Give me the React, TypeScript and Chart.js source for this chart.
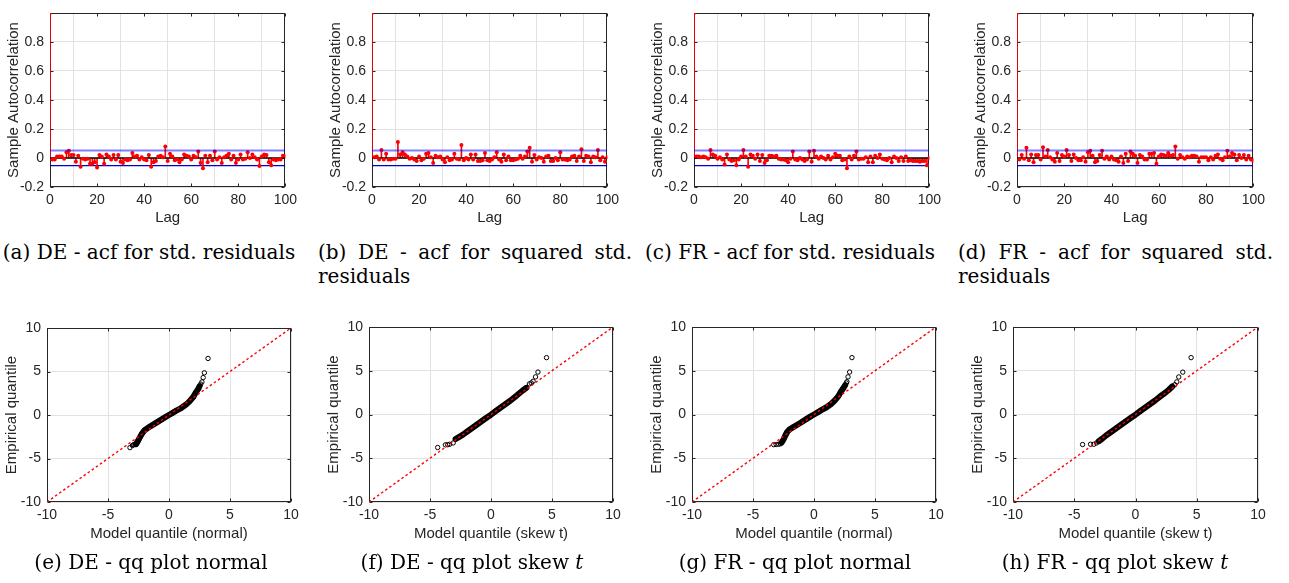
import React, { useEffect, useRef } from 'react';
import { Chart, registerables } from 'chart.js';

Chart.register(...registerables);
Chart.defaults.font.family = '"Liberation Sans", Arial, Helvetica, sans-serif';

// ---------------- DATA ----------------
const LAGS = Array.from({ length: 101 }, (_, i) => i);
const CONF_BOUND = 0.052;

const ACF_DE_STD = [
  1, -0.01, -0.01, 0.01, 0.01, 0.01, -0.005, 0.04, 0.05, 0.02,
  0.02, -0.025, 0.015, -0.06, -0.005, -0.01, -0.005, -0.04, -0.04, -0.03,
  -0.065, 0.02, 0.01, -0.04, 0.025, 0.01, -0.01, 0.02, -0.01, 0.02,
  -0.025, -0.035, -0.01, -0.015, -0.01, 0.035, 0.01, 0.015, -0.01, 0.005,
  -0.01, -0.015, 0.02, -0.06, -0.03, -0.02, 0.01, 0.015, 0.005, 0.08,
  -0.02, 0.03, 0.01, -0.015, -0.01, -0.03, -0.01, 0.025, 0.015, 0.01,
  -0.01, 0.015, 0.005, 0.045, -0.035, -0.07, 0.015, -0.03, 0.015, -0.015,
  0.045, -0.01, 0.005, -0.035, 0.005, 0.015, 0.03, -0.01, 0.015, -0.035,
  -0.01, 0.025, -0.01, -0.005, 0.04, 0.0, 0.025, 0.005, -0.01, -0.055,
  0.01, 0.025, 0.02, -0.03, -0.05, -0.01, -0.015, -0.01, -0.01, 0.015,
  0.015,
];

const ACF_DE_SQ = [
  1, 0.005, 0.01, -0.01, 0.055, -0.01, 0.03, -0.01, -0.01, -0.005,
  -0.005, 0.11, 0.025, 0.04, 0.025, 0.01, -0.005, 0.0, -0.01, -0.02,
  0.01, -0.015, -0.005, 0.03, 0.035, 0.005, -0.035, 0.015, 0.005, 0.01,
  -0.01, -0.03, 0.005, -0.015, -0.01, 0.03, -0.005, -0.01, 0.09, -0.015,
  0.0, -0.01, 0.025, -0.01, 0.025, -0.02, -0.02, -0.015, 0.035, -0.015,
  -0.02, -0.01, 0.005, 0.04, -0.01, -0.025, 0.025, -0.015, 0.01, -0.015,
  -0.015, -0.01, -0.005, 0.015, -0.005, 0.01, 0.045, 0.07, -0.025, 0.02,
  -0.01, 0.005, 0.0, -0.025, 0.01, 0.015, -0.02, -0.02, 0.0, -0.015,
  0.04, -0.01, -0.01, -0.015, -0.01, 0.01, 0.015, -0.02, 0.01, 0.06,
  -0.02, 0.015, 0.01, -0.03, 0.01, 0.005, 0.055, -0.015, 0.005, -0.025,
  0.005,
];

const ACF_FR_STD = [
  1, 0.01, 0.01, 0.005, 0.01, 0.005, -0.005, 0.055, 0.025, 0.015,
  -0.005, 0.005, -0.01, -0.045, 0.025, -0.01, -0.02, -0.015, -0.05, -0.01,
  0.01, 0.055, 0.01, -0.06, 0.025, 0.015, -0.005, 0.025, -0.02, 0.02,
  -0.035, -0.015, 0.015, 0.015, 0.01, 0.015, -0.005, -0.01, -0.01, -0.015,
  -0.03, -0.005, 0.045, -0.01, -0.015, 0.0, -0.01, -0.02, -0.01, 0.045,
  -0.025, 0.05, 0.01, -0.005, 0.01, 0.0, -0.01, 0.015, -0.01, 0.005,
  0.03, 0.015, 0.015, -0.015, -0.01, -0.07, 0.01, -0.01, 0.015, 0.045,
  -0.01, -0.005, -0.005, 0.005, -0.03, 0.01, -0.03, 0.015, 0.0, 0.025,
  -0.005, -0.01, -0.015, 0.0, -0.03, 0.01, 0.0, -0.02, 0.005, -0.02,
  0.01, -0.02, -0.015, -0.02, -0.02, -0.02, -0.025, -0.02, -0.02, -0.05,
  0.0,
];

const ACF_FR_SQ = [
  1, -0.01, 0.02, -0.005, 0.07, -0.015, 0.025, -0.03, 0.02, 0.02,
  -0.01, 0.075, 0.01, 0.055, 0.005, -0.01, -0.025, 0.035, -0.02, 0.02,
  0.01, 0.055, 0.02, -0.02, 0.025, 0.0, -0.015, -0.015, 0.005, -0.025,
  0.04, 0.05, 0.015, -0.03, -0.02, 0.02, 0.05, -0.005, 0.01, -0.01,
  0.01, -0.01, -0.015, -0.025, 0.01, -0.035, 0.03, -0.02, 0.045, 0.03,
  0.015, -0.035, 0.02, 0.01, -0.01, -0.01, 0.03, 0.03, 0.035, -0.04,
  0.01, 0.025, 0.02, 0.015, 0.035, 0.015, 0.02, 0.08, -0.005, 0.02,
  0.005, -0.005, 0.01, 0.005, 0.015, 0.015, 0.01, -0.025, 0.005, 0.005,
  0.005, -0.015, 0.005, -0.01, 0.015, 0.025, -0.005, -0.015, 0.005, 0.05,
  0.01, 0.035, 0.025, -0.015, 0.02, 0.0, 0.02, -0.01, 0.015, -0.01,
  -0.02,
];

const ACF_Y_TICKS = [-0.2, 0, 0.2, 0.4, 0.6, 0.8];
const LAG_TICKS = [0, 20, 40, 60, 80, 100];
const QQ_TICKS = [-10, -5, 0, 5, 10];
const REF_LINE_X = [-10, 10];
const REF_LINE_Y = [-10, 10];

// DE, normal quantiles
const QQ_DE_N_BAND_X = [-2.7, -2.55, -2.4, -2.2, -2.0, -1.7, -1.4, -1.0, -0.6, -0.3, 0, 0.3, 0.6, 1.0, 1.4, 1.7, 2.0, 2.2, 2.4, 2.5];
const QQ_DE_N_BAND_Y = [-3.35, -3.0, -2.6, -2.1, -1.75, -1.45, -1.2, -0.85, -0.5, -0.25, 0.0, 0.25, 0.5, 0.8, 1.2, 1.6, 2.1, 2.6, 3.0, 3.3];
const QQ_DE_N_TAIL_X = [-3.2, -3.0, -2.9, -2.8, 2.6, 2.7, 2.8, 2.9, 3.2];
const QQ_DE_N_TAIL_Y = [-3.75, -3.5, -3.42, -3.4, 3.55, 3.8, 4.3, 4.85, 6.5];

// DE, skew t quantiles
const QQ_DE_T_BAND_X = [-2.9, -2.6, -2.3, -2.0, -1.6, -1.2, -0.8, -0.4, 0, 0.4, 0.8, 1.2, 1.6, 2.0, 2.3, 2.6, 2.9];
const QQ_DE_T_BAND_Y = [-2.8, -2.55, -2.3, -2.0, -1.6, -1.2, -0.8, -0.4, -0.02, 0.4, 0.8, 1.2, 1.6, 2.05, 2.4, 2.75, 3.05];
const QQ_DE_T_TAIL_X = [-4.37, -3.74, -3.55, -3.39, -3.1, 3.15, 3.3, 3.45, 3.65, 3.85, 4.55];
const QQ_DE_T_TAIL_Y = [-3.77, -3.47, -3.45, -3.4, -3.25, 3.5, 3.6, 3.8, 4.3, 4.85, 6.5];

// FR, normal quantiles
const QQ_FR_N_BAND_X = [-2.65, -2.5, -2.35, -2.2, -2.0, -1.7, -1.4, -1.0, -0.6, -0.3, 0, 0.3, 0.6, 1.0, 1.4, 1.7, 2.0, 2.2, 2.4, 2.55];
const QQ_FR_N_BAND_Y = [-3.2, -2.85, -2.4, -2.0, -1.7, -1.45, -1.2, -0.85, -0.5, -0.25, 0.0, 0.25, 0.5, 0.8, 1.2, 1.6, 2.1, 2.6, 3.0, 3.35];
const QQ_FR_N_TAIL_X = [-3.3, -3.1, -2.9, -2.75, 2.65, 2.7, 2.79, 2.92, 3.11];
const QQ_FR_N_TAIL_Y = [-3.45, -3.43, -3.4, -3.35, 3.6, 3.75, 4.3, 4.85, 6.5];

// FR, skew t quantiles
const QQ_FR_T_BAND_X = [-3.0, -2.7, -2.4, -2.0, -1.6, -1.2, -0.8, -0.4, 0, 0.4, 0.8, 1.2, 1.6, 2.0, 2.4, 2.7, 3.0];
const QQ_FR_T_BAND_Y = [-3.05, -2.75, -2.4, -2.0, -1.6, -1.2, -0.8, -0.4, -0.02, 0.4, 0.8, 1.2, 1.6, 2.05, 2.45, 2.8, 3.2];
const QQ_FR_T_TAIL_X = [-4.32, -3.67, -3.4, -3.18, 3.2, 3.37, 3.53, 3.86, 4.54];
const QQ_FR_T_TAIL_Y = [-3.43, -3.4, -3.4, -3.25, 3.4, 3.73, 4.29, 4.84, 6.5];

// ---------------- LAYOUT ----------------
const M_TOP = 8, M_LEFT = 48, M_RIGHT = 16, M_BOTTOM = 50;
const AXIS_COLOR = '#262626';
const GRID_COLOR = '#e2e2e2';

type Rect = { l: number; t: number; r: number; b: number };

const boxPlugin = {
  id: 'matlabBox',
  beforeDatasetsDraw(chart: any) {
    const { ctx, chartArea, scales } = chart;
    const l = Math.round(chartArea.left) + 0.5;
    const r = Math.round(chartArea.right) - 0.5;
    const t = Math.round(chartArea.top) + 0.5;
    const b = Math.round(chartArea.bottom) - 0.5;
    ctx.save();
    ctx.strokeStyle = AXIS_COLOR;
    ctx.lineWidth = 1;
    ctx.beginPath();
    const tl = 3;
    for (const tk of scales.x.ticks) {
      const px = Math.round(scales.x.getPixelForValue(tk.value)) + 0.5;
      ctx.moveTo(px, b); ctx.lineTo(px, b - tl);
      ctx.moveTo(px, t); ctx.lineTo(px, t + tl);
    }
    for (const tk of scales.y.ticks) {
      const py = Math.round(scales.y.getPixelForValue(tk.value)) + 0.5;
      ctx.moveTo(l, py); ctx.lineTo(l + tl, py);
      ctx.moveTo(r, py); ctx.lineTo(r - tl, py);
    }
    ctx.stroke();
    ctx.strokeRect(l, t, r - l, b - t);
    ctx.restore();
  },
};

function axis(min: number, max: number, ticks: number[], title: string, isX: boolean, titleOff: number, fmt?: (v: number) => string) {
  return {
    type: 'linear',
    min,
    max,
    offset: false,
    afterFit: (s: any) => {
      if (isX) s.height = M_BOTTOM; else s.width = M_LEFT;
    },
    afterBuildTicks: (s: any) => {
      s.ticks = ticks.map((v) => ({ value: v }));
    },
    ticks: {
      autoSkip: false,
      maxRotation: 0,
      minRotation: 0,
      padding: 6,
      color: AXIS_COLOR,
      font: { size: 14, lineHeight: 1 },
      callback: fmt ? (v: any) => fmt(Number(v)) : (v: any) => String(v),
    },
    grid: { color: GRID_COLOR, drawTicks: false, lineWidth: 1 },
    border: { display: false },
    title: {
      display: true,
      text: title,
      color: AXIS_COLOR,
      font: { size: 15, lineHeight: 1.2 },
      padding: isX ? { top: 0, bottom: M_BOTTOM - titleOff - 9 } : { top: M_LEFT - titleOff - 9, bottom: 0 },
    },
  };
}

function fmtAcf(v: number) {
  const r = Math.round(v * 10) / 10;
  return String(r);
}

function acfConfig(values: number[]) {
  const pts = LAGS.map((lag, i) => ({ x: lag, y: values[i] }));
  return {
    type: 'scatter',
    data: {
      datasets: [
        {
          type: 'line',
          data: [{ x: 0, y: CONF_BOUND }, { x: 100, y: CONF_BOUND }],
          borderColor: 'rgba(0,0,255,0.5)',
          borderWidth: 2,
          pointRadius: 0,
        },
        {
          type: 'scatter',
          data: pts,
          pointRadius: 2,
          pointBackgroundColor: '#ff0000',
          pointBorderWidth: 0,
          showLine: false,
        },
        {
          type: 'line',
          data: [{ x: 0, y: 0 }, { x: 100, y: 0 }],
          borderColor: '#000000',
          borderWidth: 1.3,
          pointRadius: 0,
        },
        {
          type: 'bar',
          data: pts,
          backgroundColor: '#ff0000',
          borderWidth: 0,
          barThickness: 1,
          grouped: false,
        },
        {
          type: 'line',
          data: [{ x: 0, y: -CONF_BOUND }, { x: 100, y: -CONF_BOUND }],
          borderColor: '#0000d0',
          borderWidth: 1.3,
          pointRadius: 0,
        },
      ],
    },
    options: {
      responsive: false,
      animation: false,
      events: [],
      layout: { padding: { left: 0, top: M_TOP, right: M_RIGHT, bottom: 0 } },
      plugins: { legend: { display: false }, tooltip: { enabled: false } },
      scales: {
        x: axis(0, 100, LAG_TICKS, 'Lag', true, 31),
        y: axis(-0.2, 1, ACF_Y_TICKS, 'Sample Autocorrelation', false, 36, fmtAcf),
      },
    },
    plugins: [boxPlugin],
  };
}

function qqConfig(bx: number[], by: number[], tx: number[], ty: number[], xTitle: string) {
  return {
    type: 'scatter',
    data: {
      datasets: [
        {
          data: REF_LINE_X.map((x, i) => ({ x, y: REF_LINE_Y[i] })),
          showLine: true,
          borderColor: '#ff0000',
          borderWidth: 1.4,
          borderDash: [2.5, 2.5],
          pointRadius: 0,
        },
        {
          data: bx.map((x, i) => ({ x, y: by[i] })),
          showLine: true,
          borderColor: '#000000',
          borderWidth: 6,
          borderCapStyle: 'round',
          borderJoinStyle: 'round',
          pointRadius: 2.2,
          pointBorderColor: '#000000',
          pointBackgroundColor: 'rgba(0,0,0,0)',
          pointBorderWidth: 1,
        },
        {
          data: tx.map((x, i) => ({ x, y: ty[i] })),
          showLine: false,
          pointRadius: 2.2,
          pointBorderColor: '#000000',
          pointBackgroundColor: 'rgba(0,0,0,0)',
          pointBorderWidth: 1,
        },
      ],
    },
    options: {
      responsive: false,
      animation: false,
      events: [],
      layout: { padding: { left: 0, top: M_TOP, right: M_RIGHT, bottom: 0 } },
      plugins: { legend: { display: false }, tooltip: { enabled: false } },
      scales: {
        x: axis(-10, 10, QQ_TICKS, xTitle, true, 32),
        y: axis(-10, 10, QQ_TICKS, 'Empirical quantile', false, 35),
      },
    },
    plugins: [boxPlugin],
  };
}

function Panel({ rect, config }: { rect: Rect; config: () => any }) {
  const ref = useRef<HTMLCanvasElement | null>(null);
  const w = rect.r - rect.l + M_LEFT + M_RIGHT;
  const h = rect.b - rect.t + M_TOP + M_BOTTOM;
  useEffect(() => {
    if (!ref.current) return;
    const chart = new Chart(ref.current, config() as any);
    return () => chart.destroy();
  }, []);
  return (
    <canvas
      ref={ref}
      width={w}
      height={h}
      style={{ position: 'absolute', left: rect.l - M_LEFT, top: rect.t - M_TOP, width: w, height: h }}
    />
  );
}

const captionStyle: React.CSSProperties = {
  position: 'absolute',
  fontFamily: '"DejaVu Serif", "Liberation Serif", serif',
  fontSize: 20,
  lineHeight: '24px',
  color: '#000',
  whiteSpace: 'nowrap',
};

function Caption({ left, width, top, text, second, justify }: { left: number; width: number; top: number; text: React.ReactNode; second?: string; justify?: boolean }) {
  return (
    <div style={{ ...captionStyle, left, top, width }}>
      <div style={justify ? { textAlign: 'justify', textAlignLast: 'justify', whiteSpace: 'normal' } : { textAlign: 'center' }}>{text}</div>
      {second ? <div style={{ textAlign: 'left' }}>{second}</div> : null}
    </div>
  );
}

export default function App() {
  const topRects: Rect[] = [
    { l: 50, t: 8, r: 287, b: 187 },
    { l: 372, t: 8, r: 609, b: 187 },
    { l: 694, t: 8, r: 931, b: 187 },
    { l: 1017, t: 8, r: 1255, b: 187 },
  ];
  const botRects: Rect[] = [
    { l: 47, t: 323, r: 291, b: 502 },
    { l: 369, t: 322, r: 613, b: 502 },
    { l: 692, t: 322, r: 936, b: 502 },
    { l: 1013, t: 322, r: 1258, b: 502 },
  ];
  return (
    <div style={{ position: 'absolute', left: 0, top: 0, width: 1289, height: 583, background: '#fff', overflow: 'hidden' }}>
      <Panel rect={topRects[0]} config={() => acfConfig(ACF_DE_STD)} />
      <Panel rect={topRects[1]} config={() => acfConfig(ACF_DE_SQ)} />
      <Panel rect={topRects[2]} config={() => acfConfig(ACF_FR_STD)} />
      <Panel rect={topRects[3]} config={() => acfConfig(ACF_FR_SQ)} />
      <Panel rect={botRects[0]} config={() => qqConfig(QQ_DE_N_BAND_X, QQ_DE_N_BAND_Y, QQ_DE_N_TAIL_X, QQ_DE_N_TAIL_Y, 'Model quantile (normal)')} />
      <Panel rect={botRects[1]} config={() => qqConfig(QQ_DE_T_BAND_X, QQ_DE_T_BAND_Y, QQ_DE_T_TAIL_X, QQ_DE_T_TAIL_Y, 'Model quantile (skew t)')} />
      <Panel rect={botRects[2]} config={() => qqConfig(QQ_FR_N_BAND_X, QQ_FR_N_BAND_Y, QQ_FR_N_TAIL_X, QQ_FR_N_TAIL_Y, 'Model quantile (normal)')} />
      <Panel rect={botRects[3]} config={() => qqConfig(QQ_FR_T_BAND_X, QQ_FR_T_BAND_Y, QQ_FR_T_TAIL_X, QQ_FR_T_TAIL_Y, 'Model quantile (skew t)')} />

      <Caption left={-11} width={320} top={240} text="(a) DE - acf for std. residuals" />
      <Caption left={318} width={314} top={240} text="(b) DE - acf for squared std." second="residuals" justify />
      <Caption left={630} width={320} top={240} text="(c) FR - acf for std. residuals" />
      <Caption left={958} width={315} top={240} text="(d) FR - acf for squared std." second="residuals" justify />

      <Caption left={-9} width={320} top={550} text="(e) DE - qq plot normal" />
      <Caption left={312} width={320} top={550} text={<span>(f) DE - qq plot skew <i>t</i></span>} />
      <Caption left={635} width={320} top={550} text="(g) FR - qq plot normal" />
      <Caption left={955} width={320} top={550} text={<span>(h) FR - qq plot skew <i>t</i></span>} />
    </div>
  );
}
